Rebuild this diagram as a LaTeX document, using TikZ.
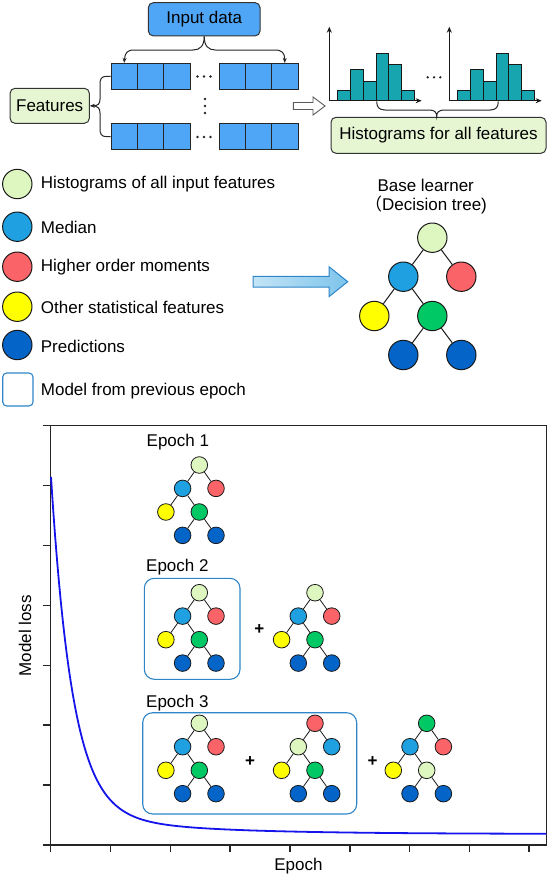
\documentclass[tikz,border=0pt]{standalone}
\usepackage{fontspec}
\setmainfont{Liberation Sans}
\newfontfamily\cjk{Noto Sans CJK SC}
\usetikzlibrary{arrows.meta}
\definecolor{lgreen}{RGB}{222,246,192}
\definecolor{fgreen}{RGB}{230,246,210}
\definecolor{med}{RGB}{30,160,225}
\definecolor{redc}{RGB}{250,100,105}
\definecolor{yel}{RGB}{255,255,0}
\definecolor{grn}{RGB}{0,200,100}
\definecolor{pred}{RGB}{5,100,200}
\definecolor{boxblue}{RGB}{46,134,200}
\definecolor{cellblue}{RGB}{80,166,246}
\definecolor{teal}{RGB}{23,165,175}
\definecolor{curveblue}{RGB}{20,20,235}
\definecolor{arrowlight}{RGB}{195,228,246}
\definecolor{arrowdark}{RGB}{125,196,235}
\newcommand\dtree[9]{%
  \begin{scope}[shift={(#2,#3)},#4]
    \node[tn,fill=#5] (#1r) at (0,0) {};
    \node[tn,fill=#6] (#1a) at (-29,39) {};
    \node[tn,fill=#7] (#1b) at (29,39) {};
    \node[tn,fill=#8] (#1c) at (-58,78.3) {};
    \node[tn,fill=#9] (#1d) at (0,78.3) {};
    \node[tn,fill=pred] (#1e) at (-29,117.3) {};
    \node[tn,fill=pred] (#1f) at (29,117.3) {};
    \draw[edge] (#1r)--(#1a) (#1r)--(#1b) (#1a)--(#1c) (#1a)--(#1d) (#1d)--(#1e) (#1d)--(#1f);
  \end{scope}}
\newcommand\hist[1]{%
  \foreach \a/\t in {8/90.7, 20.9/69.3, 33.8/81, 46.7/53.3, 59.6/64, 72.5/90.7}
    \draw[bar] ({#1+\a},100.7) rectangle ({#1+\a+12.9},\t);
  \draw[axarrow] (#1,100.7) -- (#1,26.7);
  \draw[axarrow] (#1,100.7) -- ({#1+92.4},100.7);
}
\begin{document}
\begin{tikzpicture}[x=1pt,y=-1pt,
  every node/.style={font=\fontsize{17}{20}\selectfont},
  bigtree/.style={tn/.style={circle,draw=black!90,line width=1pt,minimum size=29.4pt,inner sep=0pt},
                  edge/.style={draw=black!90,line width=1pt}},
  smalltree/.style={xscale=0.576,yscale=0.6,
                  tn/.style={circle,draw=black!90,line width=0.8pt,minimum size=16.6pt,inner sep=0pt},
                  edge/.style={draw=black!90,line width=0.8pt}},
  cell/.style={draw=black!85,fill=cellblue,minimum width=26.3pt,minimum height=26pt,inner sep=0pt,line width=0.8pt},
  bar/.style={draw=black!90,fill=teal,line width=0.9pt},
  axarrow/.style={draw=black!90,line width=1.1pt,-{Stealth[length=6pt,width=5pt]}},
  brace/.style={draw=black!85,line width=1pt},
  gbox/.style={draw=black!80,fill=fgreen,rounded corners=5pt,line width=1pt,inner sep=0pt},
  lc/.style={circle,draw=black!90,line width=1pt,minimum size=29.4pt,inner sep=0pt},
  lbl/.style={anchor=west,inner sep=0pt},
  epbox/.style={draw=boxblue,rounded corners=10pt,line width=1.1pt,inner sep=0pt},
  axisline/.style={draw=black!85,line width=1.3pt},
  tick/.style={draw=black!85,line width=1.6pt},
  dotc/.style={fill=black!85}
]
\useasboundingbox (0,0) rectangle (550,878);

% ---------- top: input data ----------
\node[draw=black!80,fill=cellblue,rounded corners=5pt,minimum width=111.7pt,minimum height=33.3pt,line width=1pt,inner sep=0pt] (ind) at (204.2,19.3) {Input data};

\foreach \i/\x in {1/124.15,2/150.45,3/176.75,4/232.15,5/258.45,6/284.75}{
  \node[cell] (ca\i) at (\x,76.3) {};
  \node[cell] (cb\i) at (\x,136.7) {};
}
\foreach \x in {197.5,204,210.5}{
  \fill[dotc] (\x,76.5) circle (1.3);
  \fill[dotc] (\x,137) circle (1.3);
}
\foreach \y in {99,106,113}{\fill[dotc] (205,\y) circle (1.3);}

% brace from input data
\draw[brace,-{Stealth[length=5pt,width=4pt]}] (ind.south) .. controls (204.2,46) and (200,50) .. (193,50) -- (134,50) .. controls (127,50) and (125,53) .. (ca1.north);
\draw[brace,-{Stealth[length=5pt,width=4pt]}] (ind.south) .. controls (204.2,46) and (208.4,50) .. (215.4,50) -- (275,50) .. controls (282,50) and (284.75,53) .. (ca6.north);

% features
\node[gbox,minimum width=79.3pt,minimum height=35pt] (feat) at (49.7,105.8) {Features};
\draw[brace,-{Stealth[length=5pt,width=4pt]}] (ca1.west) -- (107,76.3) .. controls (101,76.3) and (100,79) .. (100,85) -- (100,99) .. controls (100,104) and (98,105.8) .. (feat.east);
\draw[brace] (cb1.west) -- (107,136.7) .. controls (101,136.7) and (100,134) .. (100,128) -- (100,113) .. controls (100,108) and (98,105.8) .. (91,105.8);

% hollow arrow
\draw[draw=black!65,fill=white,line width=0.9pt] (293.3,102.5) -- (313,102.5) -- (313,97) -- (325,106) -- (313,115) -- (313,109.5) -- (293.3,109.5) -- cycle;

% histograms
\hist{329.3}
\hist{449.3}
\foreach \x in {427.7,434,440.3}{\fill[dotc] (\x,77.3) circle (1.3);}

\node[gbox,minimum width=215pt,minimum height=36pt] (hbox) at (438.5,135.3) {Histograms for all features};
\draw[brace] (376.7,101.5) .. controls (376.7,107) and (379,110) .. (385,110) -- (429,110) .. controls (434.5,110) and (436.7,112) .. (hbox.north -| 436.7,0) .. controls (436.7,112) and (438.9,110) .. (444.4,110) -- (490,110) .. controls (496,110) and (498.3,107) .. (498.3,101.5);

% ---------- legend ----------
\node[lc,fill=lgreen] (l1) at (17.3,184) {};
\node[lc,fill=med] (l2) at (17.3,226.7) {};
\node[lc,fill=redc] (l3) at (17.3,266.7) {};
\node[lc,fill=yel] (l4) at (17.3,306.7) {};
\node[lc,fill=pred] (l5) at (17.3,345) {};
\node[draw=boxblue,rounded corners=4pt,minimum width=30.3pt,minimum height=33pt,line width=1.1pt,inner sep=0pt] (l6) at (17.85,389.5) {};
\node[lbl] (t1) at (40.7,184) {Histograms of all input features};
\node[lbl] (t2) at (40.7,227) {Median};
\node[lbl] (t3) at (40.7,267.5) {Higher order moments};
\node[lbl] (t4) at (40.7,307) {Other statistical features};
\node[lbl] (t5) at (40.7,346) {Predictions};
\node[lbl] (t6) at (40.7,391) {Model from previous epoch};

% big arrow
\draw[draw=boxblue,line width=1pt,left color=arrowlight,right color=arrowdark] (253,276.3) -- (329,276.3) -- (329,266.7) -- (347.7,281.7) -- (329,296.7) -- (329,287) -- (253,287) -- cycle;

% base learner
\node (bl1) at (425.7,185.7) {Base learner};
\node (bl2) at (426,205) {{\cjk （}Decision tree)};
\dtree{B}{432.3}{237.7}{bigtree}{lgreen}{med}{redc}{yel}{grn}

% ---------- plot ----------
\draw[axisline] (42.7,425.7) -- (546.3,425.7) -- (546.3,845);
\draw[axisline] (50.7,425.7) -- (50.7,852);
\draw[axisline] (42.7,845) -- (547,845);
\foreach \k in {1,...,6}{\draw[tick] (42.7,{425.7+59.9*\k}) -- (50.7,{425.7+59.9*\k});}
\foreach \k in {1,...,8}{\draw[tick] ({50.7+59.8*\k},845) -- ({50.7+59.8*\k},852);}
\draw[curveblue,line width=1.8pt] plot[domain=51:546.3,samples=250] (\x,{834-335*exp(-(\x-51)/21.5)-22*exp(-(\x-51)/110)});
\node[rotate=90] (ylab) at (25,635.6) {Model loss};
\node (xlab) at (298.5,866.5) {Epoch};

% epoch 1
\node[lbl] (ep1) at (146.5,441.7) {Epoch 1};
\dtree{Ea}{199.3}{465}{smalltree}{lgreen}{med}{redc}{yel}{grn}

% epoch 2
\node[lbl] (ep2) at (146,567.3) {Epoch 2};
\node[epbox,minimum width=95.7pt,minimum height=101pt] (e2box) at (192.15,628.8) {};
\dtree{Eb}{199.3}{592.7}{smalltree}{lgreen}{med}{redc}{yel}{grn}
\node (p1) at (259.3,630) {\textbf{+}};
\dtree{Ec}{315}{592.7}{smalltree}{lgreen}{med}{redc}{yel}{grn}

% epoch 3
\node[lbl] (ep3) at (146,702.7) {Epoch 3};
\node[epbox,minimum width=214pt,minimum height=101.3pt] (e3box) at (249.7,763.35) {};
\dtree{Ed}{199.3}{723.3}{smalltree}{lgreen}{med}{redc}{yel}{grn}
\node (p2) at (250,761.7) {\textbf{+}};
\dtree{Ee}{315}{723.3}{smalltree}{redc}{lgreen}{med}{yel}{grn}
\node (p3) at (372.7,761.7) {\textbf{+}};
\dtree{Ef}{426.7}{723.3}{smalltree}{grn}{med}{redc}{yel}{lgreen}
\end{tikzpicture}
\end{document}
